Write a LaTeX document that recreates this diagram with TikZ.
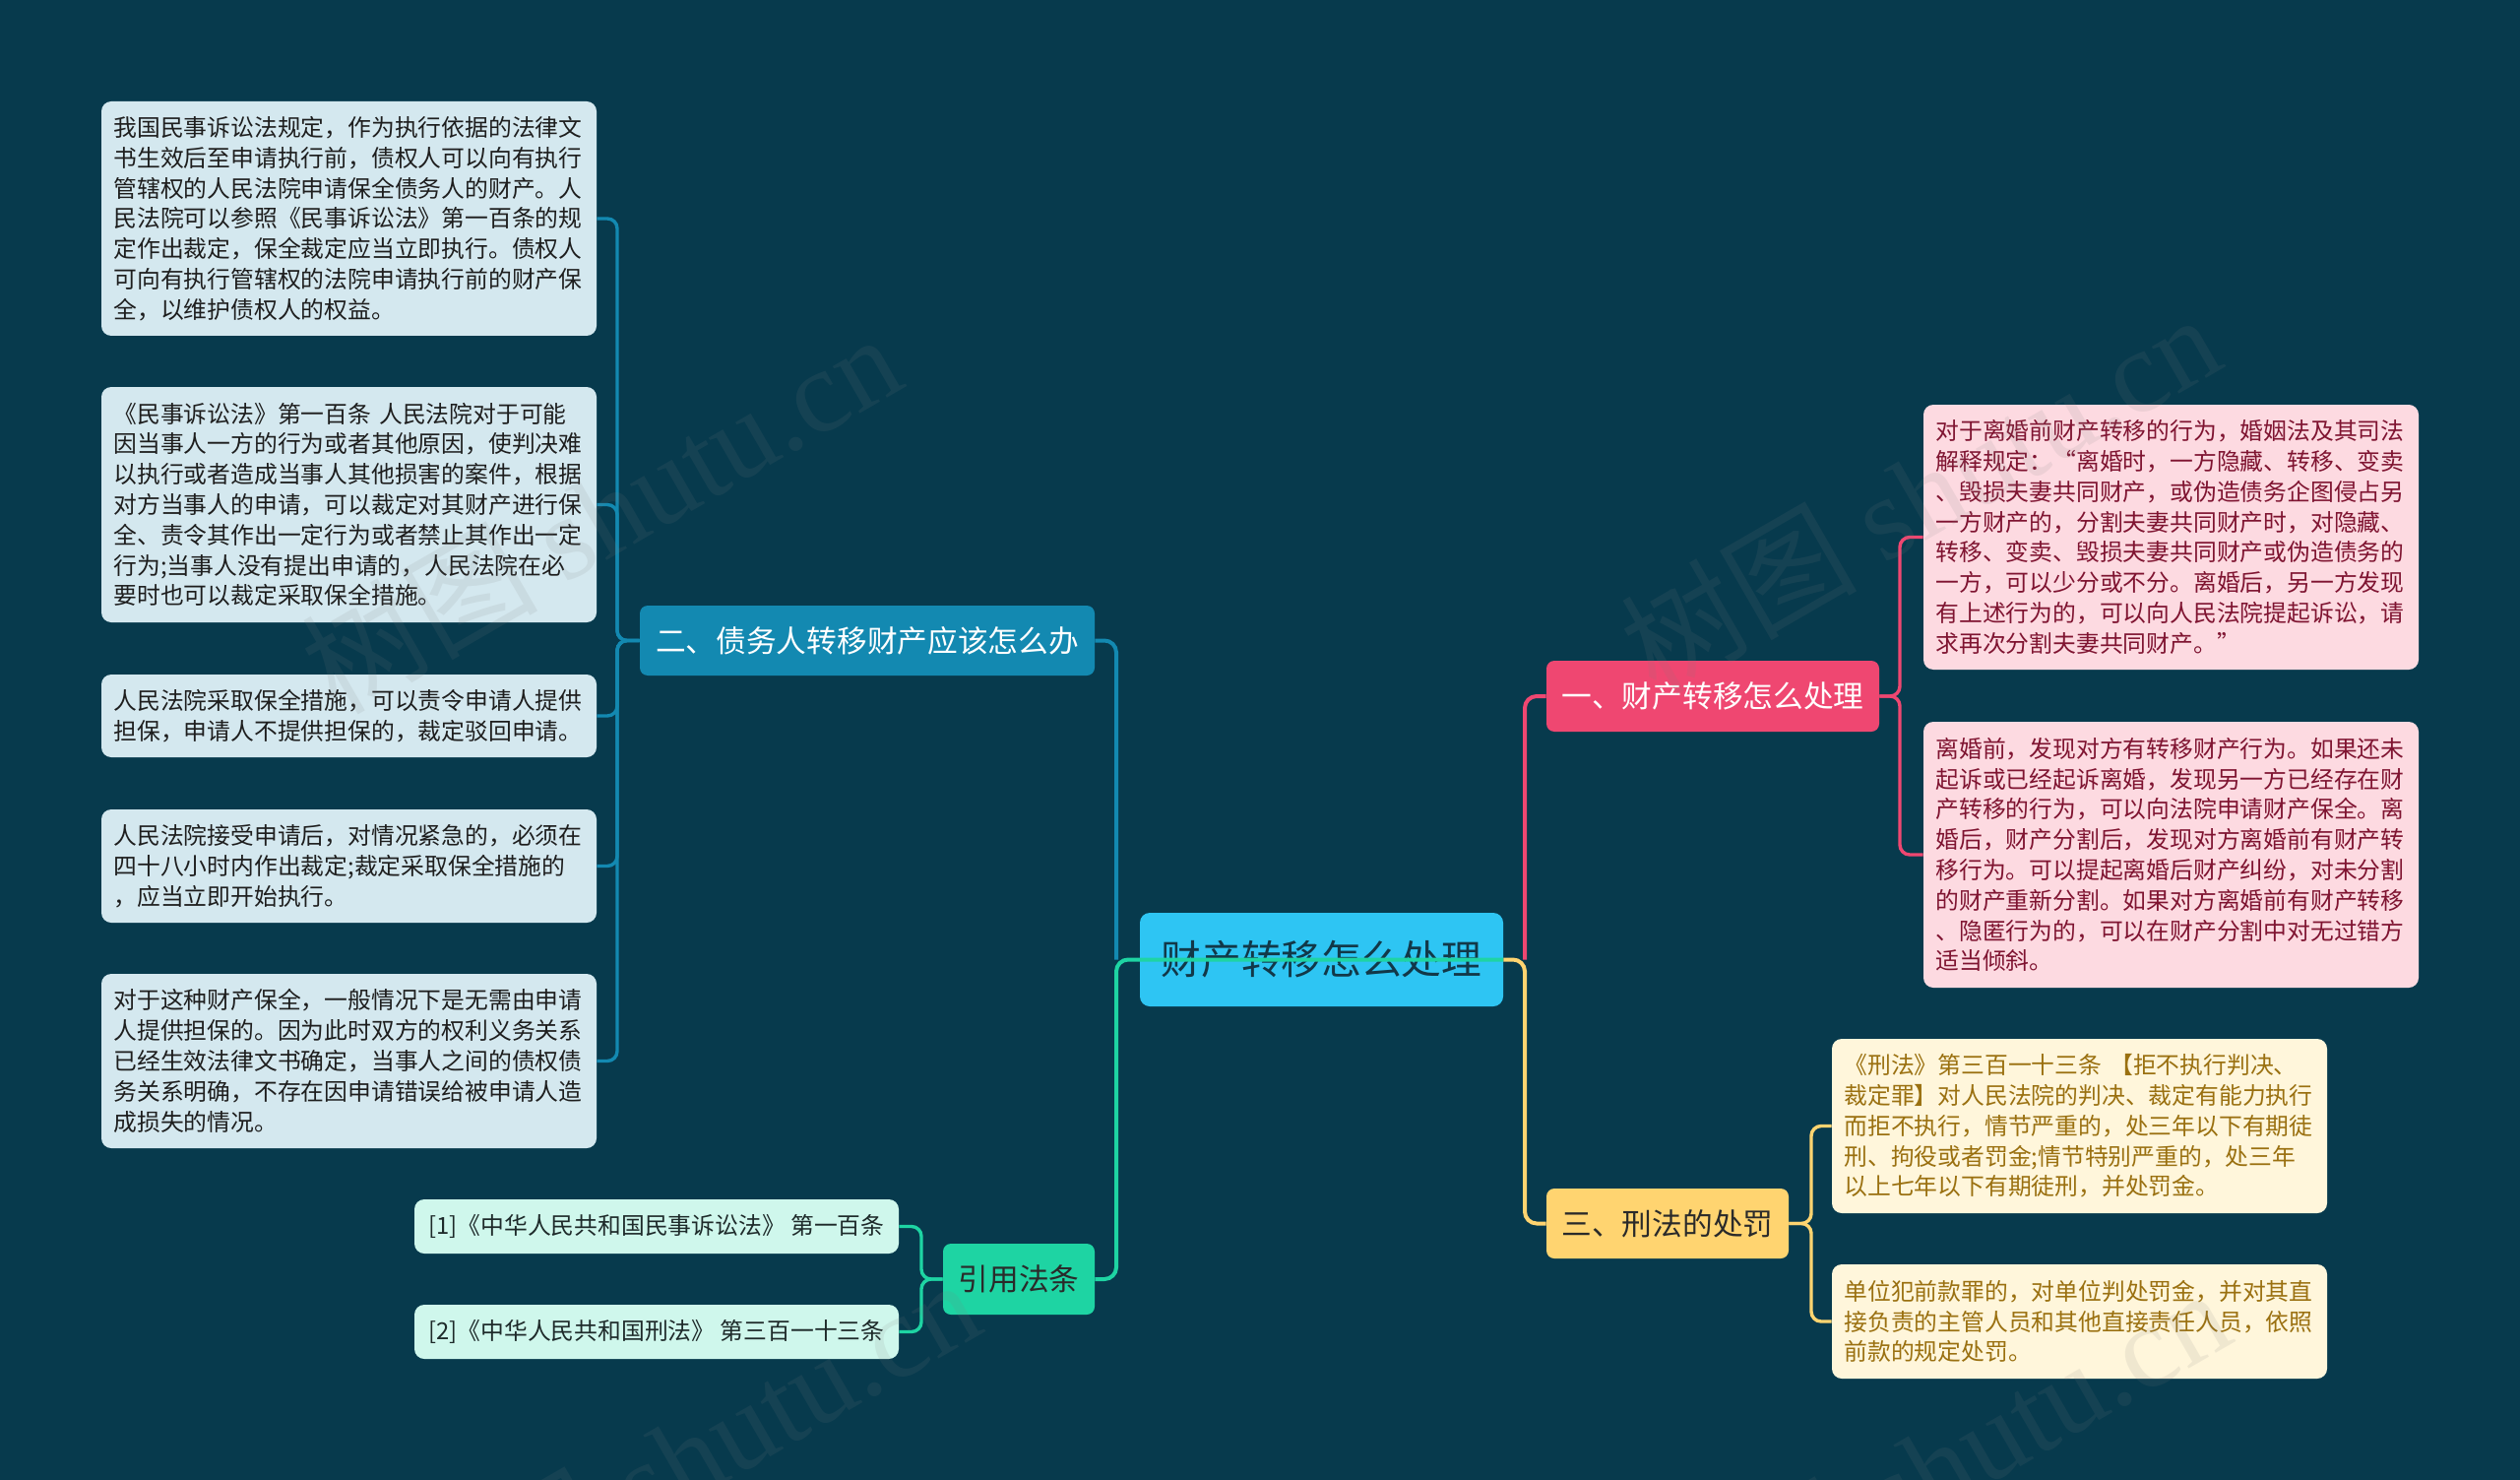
\documentclass[tikz,border=0pt]{standalone}
\usepackage{fontspec}
\setmainfont{Noto Sans CJK SC}
\newfontfamily\wmlatin{Liberation Serif}
\usetikzlibrary{calc}
\definecolor{bg}{HTML}{073A4D}
\definecolor{rootfill}{HTML}{2EC5F3}
\definecolor{roottext}{HTML}{123848}
\definecolor{bluefill}{HTML}{1389B1}
\definecolor{redfill}{HTML}{EF4771}
\definecolor{yellowfill}{HTML}{FFD470}
\definecolor{greenfill}{HTML}{1ED4A3}
\definecolor{leafLfill}{HTML}{D4E8EF}
\definecolor{leafLtext}{HTML}{1E1E1E}
\definecolor{pinkfill}{HTML}{FDDAE1}
\definecolor{pinktext}{HTML}{7F1431}
\definecolor{creamfill}{HTML}{FFF6DB}
\definecolor{creamtext}{HTML}{9A7010}
\definecolor{mintfill}{HTML}{CFF7EC}
\definecolor{minttext}{HTML}{1E2A2A}
\definecolor{darktext}{HTML}{2A2A2A}
\begin{document}
\begin{tikzpicture}[x=0.5pt,y=-0.5pt,
  leafbase/.style={rounded corners=5pt, text width=239pt, inner xsep=6.25pt, inner ysep=0pt, align=left, font=\fontsize{11.9pt}{15.4pt}\selectfont},
  leafL/.style={leafbase, fill=leafLfill, text=leafLtext},
  leafP/.style={leafbase, fill=pinkfill, text=pinktext},
  leafY/.style={leafbase, fill=creamfill, text=creamtext},
  leafR/.style={rounded corners=5pt, inner sep=0pt, minimum width=246pt, minimum height=27.5pt, fill=mintfill, text=minttext, font=\fontsize{11.9pt}{15.4pt}\selectfont},
  branch/.style={rounded corners=4pt, inner sep=0pt, align=center, font=\fontsize{15.35pt}{18pt}\selectfont},
  rootbox/.style={rounded corners=5pt, inner sep=0pt, align=center, fill=rootfill, text=roottext, font=\fontsize{20.35pt}{24pt}\selectfont},
  rootline/.style={line width=2pt, rounded corners=6pt},
  leafline/.style={line width=1.7pt, rounded corners=5pt},
  wm/.style={text=gray, opacity=0.12, font=\fontsize{60pt}{60pt}\selectfont, inner sep=0pt}
]
\useasboundingbox (0,0) rectangle (2560,1503);
\fill[bg] (0,0) rectangle (2560,1503);

% root
\node[rootbox, minimum width=184.5pt, minimum height=47.5pt] (root) at (1342.5,974.5) {财产转移怎么处理};

% branches
\node[branch, fill=bluefill, text=white, minimum width=231pt, minimum height=35.5pt] (b2) at (881,650.5) {二、债务人转移财产应该怎么办};
\node[branch, fill=redfill, text=white, minimum width=169pt, minimum height=36pt] (b1) at (1740,707) {一、财产转移怎么处理};
\node[branch, fill=yellowfill, text=darktext, minimum width=123pt, minimum height=35.5pt] (b3) at (1694,1242.5) {三、刑法的处罚};
\node[branch, fill=greenfill, text=darktext, minimum width=77pt, minimum height=36pt] (ref) at (1035,1299) {引用法条};

% left leaves
\node[leafL, minimum height=119pt] (L1) at (354.5,222) {我国民事诉讼法规定，作为执行依据的法律文\\书生效后至申请执行前，债权人可以向有执行\\管辖权的人民法院申请保全债务人的财产。人\\民法院可以参照《民事诉讼法》第一百条的规\\定作出裁定，保全裁定应当立即执行。债权人\\可向有执行管辖权的法院申请执行前的财产保\\全，以维护债权人的权益。};
\node[leafL, minimum height=119.5pt] (L2) at (354.5,512.5) {《民事诉讼法》第一百条 人民法院对于可能\\因当事人一方的行为或者其他原因，使判决难\\以执行或者造成当事人其他损害的案件，根据\\对方当事人的申请，可以裁定对其财产进行保\\全、责令其作出一定行为或者禁止其作出一定\\行为;当事人没有提出申请的，人民法院在必\\要时也可以裁定采取保全措施。};
\node[leafL, minimum height=42pt] (L3) at (354.5,727) {人民法院采取保全措施，可以责令申请人提供\\担保，申请人不提供担保的，裁定驳回申请。};
\node[leafL, minimum height=57.5pt] (L4) at (354.5,879.5) {人民法院接受申请后，对情况紧急的，必须在\\四十八小时内作出裁定;裁定采取保全措施的\\，应当立即开始执行。};
\node[leafL, minimum height=88.5pt] (L5) at (354.5,1077.5) {对于这种财产保全，一般情况下是无需由申请\\人提供担保的。因为此时双方的权利义务关系\\已经生效法律文书确定，当事人之间的债权债\\务关系明确，不存在因申请错误给被申请人造\\成损失的情况。};

% right pink leaves
\node[leafP, minimum height=134.5pt] (RA) at (2205.5,545.5) {对于离婚前财产转移的行为，婚姻法及其司法\\解释规定：“离婚时，一方隐藏、转移、变卖\\、毁损夫妻共同财产，或伪造债务企图侵占另\\一方财产的，分割夫妻共同财产时，对隐藏、\\转移、变卖、毁损夫妻共同财产或伪造债务的\\一方，可以少分或不分。离婚后，另一方发现\\有上述行为的，可以向人民法院提起诉讼，请\\求再次分割夫妻共同财产。”};
\node[leafP, minimum height=135pt] (RB) at (2205.5,868) {离婚前，发现对方有转移财产行为。如果还未\\起诉或已经起诉离婚，发现另一方已经存在财\\产转移的行为，可以向法院申请财产保全。离\\婚后，财产分割后，发现对方离婚前有财产转\\移行为。可以提起离婚后财产纠纷，对未分割\\的财产重新分割。如果对方离婚前有财产转移\\、隐匿行为的，可以在财产分割中对无过错方\\适当倾斜。};

% cream leaves
\node[leafY, minimum height=88.5pt] (YC) at (2112.5,1143.5) {《刑法》第三百一十三条 【拒不执行判决、\\裁定罪】对人民法院的判决、裁定有能力执行\\而拒不执行，情节严重的，处三年以下有期徒\\刑、拘役或者罚金;情节特别严重的，处三年\\以上七年以下有期徒刑，并处罚金。};
\node[leafY, minimum height=58pt] (YD) at (2112.5,1342) {单位犯前款罪的，对单位判处罚金，并对其直\\接负责的主管人员和其他直接责任人员，依照\\前款的规定处罚。};

% reference leaves
\node[leafR] (R1) at (667,1245.5) {[1]《中华人民共和国民事诉讼法》 第一百条};
\node[leafR] (R2) at (667,1352.5) {[2]《中华人民共和国刑法》 第三百一十三条};

% junctions
\coordinate (jl) at (1134,974.5);
\coordinate (jr) at (1549,974.5);
\coordinate (jL) at (627,650.5);
\coordinate (jA) at (1930,707);
\coordinate (jC) at (1840,1242.5);
\coordinate (jR) at (936,1299);

% root connectors
\draw[bluefill, rootline] (jl) |- (b2.east);
\draw[greenfill, rootline] (root.east) -- (jl) |- (ref.east);
\draw[redfill, rootline] (jr) |- (b1.west);
\draw[yellowfill, rootline] (root.east) -- (jr) |- (b3.west);

% leaf connectors
\foreach \n in {L1,L2,L3,L4,L5} \draw[bluefill, leafline] (b2.west) -- (jL) |- (\n.east);
\foreach \n in {RA,RB} \draw[redfill, leafline] (b1.east) -- (jA) |- (\n.west);
\foreach \n in {YC,YD} \draw[yellowfill, leafline] (b3.east) -- (jC) |- (\n.west);
\foreach \n in {R1,R2} \draw[greenfill, leafline] (ref.west) -- (jR) |- (\n.east);

% watermarks
\node[wm, rotate=30] (wm1) at (610,520) {树图 {\wmlatin shutu.cn}};
\node[wm, rotate=30] (wm2) at (1950,500) {树图 {\wmlatin shutu.cn}};
\node[wm, rotate=30] (wm3) at (690,1480) {树图 {\wmlatin shutu.cn}};
\node[wm, rotate=30] (wm4) at (1960,1490) {树图 {\wmlatin shutu.cn}};
\end{tikzpicture}
\end{document}
